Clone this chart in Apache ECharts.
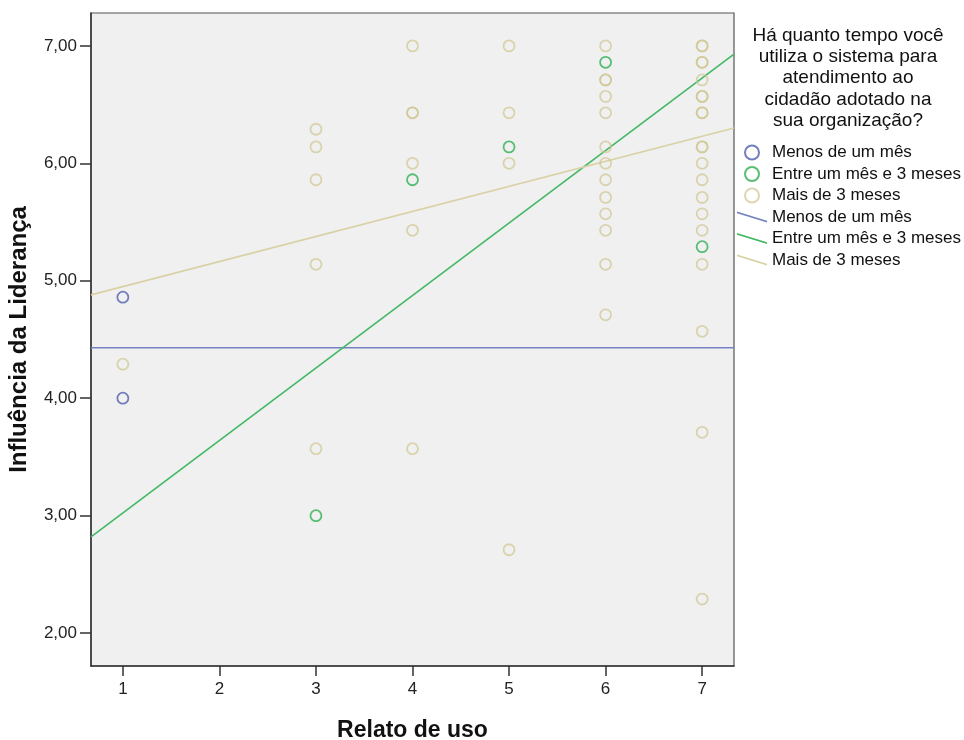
<!DOCTYPE html>
<html>
<head>
<meta charset="utf-8">
<script src="https://cdn.jsdelivr.net/npm/echarts@6/dist/echarts.min.js"></script>
<style>
html,body{margin:0;padding:0;background:#fff;}
#c{width:964px;height:740px;}
</style>
</head>
<body>
<div id="c"></div>
<script>
// ---- data ----
var xTicks = [1, 2, 3, 4, 5, 6, 7];
var yTicks = [2, 3, 4, 5, 6, 7];
var groupNames = ['Menos de um mês', 'Entre um mês e 3 meses', 'Mais de 3 meses'];
var legendTitle = 'Há quanto tempo você\nutiliza o sistema para\natendimento ao\ncidadão adotado na\nsua organização?';
var xTitle = 'Relato de uso';
var yTitle = 'Influência da Liderança';

var blueX = [1, 1];
var blueY = [4.86, 4.00];

var greenX = [3, 4, 5, 6, 7];
var greenY = [3.00, 5.86, 6.14, 6.86, 5.29];

var tanX = [1,
  3, 3, 3, 3, 3,
  4, 4, 4, 4, 4, 4,
  5, 5, 5, 5,
  6, 6, 6, 6, 6, 6, 6, 6, 6, 6, 6, 6, 6,
  7, 7, 7, 7, 7, 7, 7, 7, 7, 7, 7, 7, 7, 7, 7, 7, 7, 7, 7, 7];
var tanY = [4.29,
  6.29, 6.14, 5.86, 5.14, 3.57,
  7.00, 6.43, 6.43, 6.00, 5.43, 3.57,
  7.00, 6.43, 6.00, 2.71,
  7.00, 6.71, 6.71, 6.57, 6.43, 6.14, 6.00, 5.86, 5.71, 5.57, 5.43, 5.14, 4.71,
  7.00, 7.00, 6.86, 6.86, 6.71, 6.57, 6.57, 6.43, 6.43, 6.14, 6.14, 6.00, 5.86, 5.71, 5.57, 5.43, 5.14, 4.57, 3.71, 2.29];

// fit lines (value at x-axis min and max)
var fitX = [0.67, 7.33];
var blueFitY = [4.43, 4.43];
var greenFitY = [2.82, 6.93];
var tanFitY = [4.88, 6.30];

// ---- build ----
function pairs(xs, ys) { return xs.map(function (x, i) { return [x, ys[i]]; }); }
var FONT = '"Liberation Sans", Arial, sans-serif';
var cBlue = '#5c69b3', cGreen = '#3bb45c', cTan = '#cfc690';
var lBlue = '#7482c4', lGreen = '#41b862', lTan = '#d9d1a6';
var linePath = 'path://M0,0 L0,1.8 L32,11.8 L32,10 Z';

function scatterSeries(name, data, col, op) {
  return {
    type: 'scatter', name: name, data: data, symbol: 'circle', symbolSize: 11, z: 3,
    itemStyle: { color: 'rgba(0,0,0,0)', borderColor: col, borderWidth: 1.8, opacity: op },
    emphasis: { disabled: true }
  };
}
function lineSeries(name, data, col) {
  return {
    type: 'line', name: name + ' (linha)', data: data, showSymbol: false, symbol: 'none', z: 2,
    lineStyle: { color: col, width: 1.6 }, itemStyle: { color: col },
    emphasis: { disabled: true }
  };
}

var chart = echarts.init(document.getElementById('c'), null, { renderer: 'canvas' });
chart.setOption({
  animation: false,
  backgroundColor: '#ffffff',
  textStyle: { fontFamily: FONT },
  grid: { left: 91, top: 13, right: 230, bottom: 74, outerBoundsMode: 'none', containLabel: false,
    show: true, backgroundColor: '#f0f0f0', borderColor: '#555', borderWidth: 1.2 },
  xAxis: {
    type: 'value', min: 0.67, max: 7.33,
    name: xTitle, nameLocation: 'middle', nameGap: 53,
    nameTextStyle: { fontSize: 23, fontWeight: 'bold', color: '#111', fontFamily: FONT },
    axisLine: { show: true, lineStyle: { color: '#333', width: 1.5 } },
    axisTick: { show: true, length: 10, customValues: xTicks, lineStyle: { color: '#333', width: 1.5 } },
    axisLabel: { customValues: xTicks, fontSize: 17, color: '#222', margin: 15, fontFamily: FONT },
    splitLine: { show: false }
  },
  yAxis: {
    type: 'value', min: 1.72, max: 7.28,
    name: yTitle, nameLocation: 'middle', nameGap: 60, nameRotate: 90,
    nameTextStyle: { fontSize: 24, fontWeight: 'bold', color: '#111', fontFamily: FONT },
    axisLine: { show: true, lineStyle: { color: '#333', width: 1.5 } },
    axisTick: { show: true, length: 11, customValues: yTicks, lineStyle: { color: '#333', width: 1.5 } },
    axisLabel: { customValues: yTicks, fontSize: 17, color: '#222', margin: 14, fontFamily: FONT,
      formatter: function (v) { return v.toFixed(2).replace('.', ','); } },
    splitLine: { show: false }
  },
  legend: {
    orient: 'vertical', left: 732, top: 139, itemWidth: 30, itemHeight: 14, itemGap: 4.5,
    selectedMode: false,
    textStyle: { fontSize: 17, color: '#111', fontFamily: FONT },
    formatter: function (n) { return n.replace(' (linha)', ''); },
    data: [
      { name: groupNames[0], icon: 'circle' },
      { name: groupNames[1], icon: 'circle' },
      { name: groupNames[2], icon: 'circle' },
      { name: groupNames[0] + ' (linha)', icon: linePath, itemStyle: { color: lBlue } },
      { name: groupNames[1] + ' (linha)', icon: linePath, itemStyle: { color: lGreen } },
      { name: groupNames[2] + ' (linha)', icon: linePath, itemStyle: { color: lTan } }
    ]
  },
  graphic: [{
    type: 'text', x: 848, y: 25,
    style: { text: legendTitle, align: 'center', fontSize: 19, lineHeight: 21.3, fontFamily: FONT, fill: '#111' }
  }],
  series: [
    lineSeries(groupNames[0], pairs(fitX, blueFitY), lBlue),
    lineSeries(groupNames[1], pairs(fitX, greenFitY), lGreen),
    lineSeries(groupNames[2], pairs(fitX, tanFitY), lTan),
    scatterSeries(groupNames[0], pairs(blueX, blueY), cBlue, 0.85),
    scatterSeries(groupNames[1], pairs(greenX, greenY), cGreen, 0.85),
    scatterSeries(groupNames[2], pairs(tanX, tanY), cTan, 0.7)
  ]
});
</script>
</body>
</html>
